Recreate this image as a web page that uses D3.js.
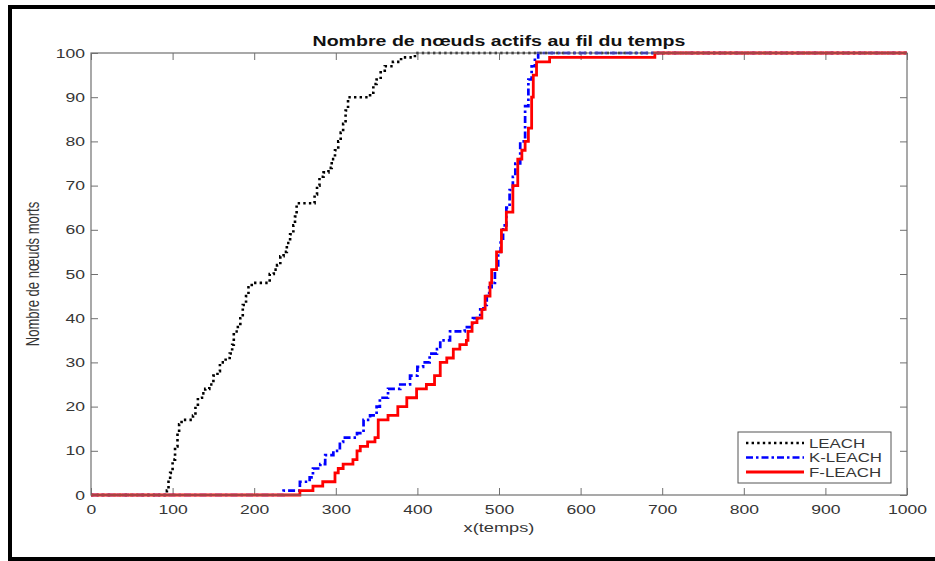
<!DOCTYPE html>
<html>
<head>
<meta charset="utf-8">
<script src="https://cdn.jsdelivr.net/npm/d3@7/dist/d3.min.js"></script>
<style>
  html, body { margin: 0; padding: 0; background: #fff; }
  svg { display: block; font-family: "Liberation Sans", Arial, sans-serif; }
</style>
</head>
<body>
<svg id="chart" width="935" height="561"></svg>
<script>
// Time steps (x) and cumulative dead-node counts (y) for each protocol
const leachT  = [0, 92, 93, 95, 97, 100, 103, 106, 108, 111, 125, 128, 131, 136, 140, 145, 150, 155, 158, 165, 170, 173, 175, 180, 183, 186, 190, 193, 197, 217, 219, 224, 228, 232, 236, 240, 244, 248, 250, 252, 271, 274, 277, 280, 285, 291, 295, 299, 303, 306, 309, 312, 315, 338, 342, 346, 350, 355, 360, 370, 380, 397, 1000];
const leachN  = [0, 0, 1, 3, 5, 8, 11, 14, 16, 17, 18, 20, 22, 23, 24, 25, 27, 28, 30, 31, 32, 34, 37, 38, 40, 43, 45, 47, 48, 48, 50, 51, 52, 54, 55, 57, 59, 61, 63, 66, 66, 68, 70, 72, 73, 74, 76, 78, 80, 82, 84, 87, 90, 90, 91, 93, 94, 96, 97, 98, 99, 100, 100];

const kleachT = [0, 230, 236, 256, 268, 272, 281, 287, 297, 305, 309, 326, 334, 342, 350, 354, 364, 379, 391, 400, 407, 415, 424, 428, 440, 458, 468, 477, 481, 485, 488, 491, 495, 499, 502, 505, 509, 513, 517, 520, 526, 532, 536, 540, 544, 548, 1000];
const kleachN = [0, 0, 1, 3, 4, 6, 7, 9, 10, 12, 13, 14, 17, 18, 20, 22, 24, 25, 27, 29, 30, 32, 33, 35, 37, 38, 40, 42, 43, 45, 47, 48, 51, 55, 58, 61, 65, 69, 72, 75, 80, 88, 94, 97, 99, 100, 100];

const fleachT = [0, 254, 256, 272, 284, 299, 303, 309, 321, 326, 330, 339, 348, 352, 364, 376, 387, 399, 411, 421, 428, 436, 444, 452, 460, 462, 467, 473, 479, 483, 489, 491, 497, 503, 509, 517, 523, 528, 532, 536, 540, 542, 546, 562, 691, 1000];
const fleachN = [0, 0, 1, 2, 3, 5, 6, 7, 8, 10, 11, 12, 13, 17, 18, 20, 22, 24, 25, 27, 30, 31, 33, 34, 35, 37, 39, 40, 42, 45, 48, 51, 55, 60, 64, 70, 76, 78, 80, 83, 90, 95, 98, 99, 100, 100];

const seriesNames = ["LEACH", "K-LEACH", "F-LEACH"];
const xTicks = [0, 100, 200, 300, 400, 500, 600, 700, 800, 900, 1000];
const yTicks = [0, 10, 20, 30, 40, 50, 60, 70, 80, 90, 100];

const titleText = "Nombre de nœuds actifs au fil du temps";
const xLabel = "x(temps)";
const yLabel = "Nombre de nœuds morts";

// ---------------------------------------------------------------
const svg = d3.select("#chart");
const W = 935, H = 561;
const plot = { left: 91, top: 53, right: 907, bottom: 495 };
const stretch = 1.35;           // horizontal glyph widening used for all text
const axisColor = "#707070";
const textColor = "#363636";

svg.append("rect").attr("width", W).attr("height", H).attr("fill", "#fff");

// page frame
const frame = svg.append("g").attr("stroke", "#000").attr("stroke-width", 4).attr("fill", "none");
frame.append("line").attr("x1", 8).attr("x2", W).attr("y1", 7).attr("y2", 7);
frame.append("line").attr("x1", 10).attr("x2", 10).attr("y1", 5).attr("y2", H);
frame.append("line").attr("x1", 8).attr("x2", W).attr("y1", 559).attr("y2", 559);

const x = d3.scaleLinear().domain([0, 1000]).range([plot.left, plot.right]);
const y = d3.scaleLinear().domain([0, 100]).range([plot.bottom, plot.top]);

const tickLen = 7;

function styleAxis(g) {
  g.select(".domain").remove();
  g.selectAll(".tick line").attr("stroke", axisColor).attr("stroke-width", 1);
  g.selectAll(".tick text")
    .attr("fill", textColor)
    .style("font-size", "13px");
}

// bottom axis, ticks pointing inward
const gx = svg.append("g")
  .attr("transform", `translate(0,${plot.bottom})`)
  .call(d3.axisBottom(x).tickValues(xTicks).tickFormat(d3.format("d"))
    .tickSizeInner(-tickLen).tickSizeOuter(0).tickPadding(10));
styleAxis(gx);
gx.selectAll(".tick text").attr("transform", `scale(${stretch},1)`).attr("dy", "0.71em");

// top axis (ticks only)
const gxt = svg.append("g")
  .attr("transform", `translate(0,${plot.top})`)
  .call(d3.axisTop(x).tickValues(xTicks).tickFormat("").tickSizeInner(-tickLen).tickSizeOuter(0));
styleAxis(gxt);

// left axis
const gy = svg.append("g")
  .attr("transform", `translate(${plot.left},0)`)
  .call(d3.axisLeft(y).tickValues(yTicks).tickFormat(d3.format("d"))
    .tickSizeInner(-tickLen).tickSizeOuter(0).tickPadding(6));
styleAxis(gy);
gy.selectAll(".tick text")
  .attr("x", -6 / stretch)
  .attr("transform", `scale(${stretch},1)`);

// right axis (ticks only)
const gyr = svg.append("g")
  .attr("transform", `translate(${plot.right},0)`)
  .call(d3.axisRight(y).tickValues(yTicks).tickFormat("").tickSizeInner(-tickLen).tickSizeOuter(0));
styleAxis(gyr);

// stair lines
const line = d3.line()
  .x(d => x(d[0]))
  .y(d => y(d[1]))
  .curve(d3.curveStepAfter);

const series = [
  { name: seriesNames[0], t: leachT,  n: leachN,  color: "#000000", dash: "2.4,3.2", width: 2.6 },
  { name: seriesNames[1], t: kleachT, n: kleachN, color: "#0000ff", dash: "7,3,2.5,3", width: 2.7 },
  { name: seriesNames[2], t: fleachT, n: fleachN, color: "#ff0000", dash: null,      width: 2.8 }
];

svg.append("clipPath").attr("id", "plotclip")
  .append("rect")
  .attr("x", plot.left).attr("y", plot.top - 3)
  .attr("width", plot.right - plot.left + 2).attr("height", plot.bottom - plot.top + 6);

const lines = svg.append("g").attr("clip-path", "url(#plotclip)");
series.forEach(s => {
  const pts = s.t.map((t, i) => [t, s.n[i]]);
  lines.append("path")
    .datum(pts)
    .attr("d", line)
    .attr("fill", "none")
    .attr("stroke", s.color)
    .attr("stroke-width", s.width)
    .attr("stroke-dasharray", s.dash)
    .attr("stroke-linejoin", "miter");
});

// plot box
svg.append("rect")
  .attr("x", plot.left).attr("y", plot.top)
  .attr("width", plot.right - plot.left).attr("height", plot.bottom - plot.top)
  .attr("fill", "none").attr("stroke", axisColor).attr("stroke-width", 1.2);

// title
svg.append("text")
  .attr("transform", `translate(${(plot.left + plot.right) / 2},46) scale(${stretch},1)`)
  .attr("text-anchor", "middle")
  .attr("font-weight", "bold")
  .attr("fill", "#111")
  .style("font-size", "14.5px")
  .text(titleText);

// x label
svg.append("text")
  .attr("transform", `translate(${(plot.left + plot.right) / 2},532) scale(${stretch},1)`)
  .attr("text-anchor", "middle")
  .attr("fill", textColor)
  .style("font-size", "13.5px")
  .text(xLabel);

// y label
svg.append("text")
  .attr("transform", `translate(39,${(plot.top + plot.bottom) / 2}) rotate(-90) scale(1,${stretch})`)
  .attr("text-anchor", "middle")
  .attr("fill", textColor)
  .style("font-size", "13px")
  .text(yLabel);

// legend
const leg = { x: 738, y: 432, w: 153, h: 51 };
const lg = svg.append("g");
lg.append("rect")
  .attr("x", leg.x).attr("y", leg.y).attr("width", leg.w).attr("height", leg.h)
  .attr("fill", "#fff").attr("stroke", "#555").attr("stroke-width", 1);
series.forEach((s, i) => {
  const yy = leg.y + 11 + i * 14.5;
  lg.append("line")
    .attr("x1", leg.x + 8).attr("x2", leg.x + 66)
    .attr("y1", yy).attr("y2", yy)
    .attr("stroke", s.color).attr("stroke-width", s.width)
    .attr("stroke-dasharray", s.dash);
  lg.append("text")
    .attr("transform", `translate(${leg.x + 71},${yy + 4.5}) scale(${stretch},1)`)
    .attr("fill", textColor)
    .style("font-size", "12.5px")
    .text(s.name);
});
</script>
</body>
</html>
